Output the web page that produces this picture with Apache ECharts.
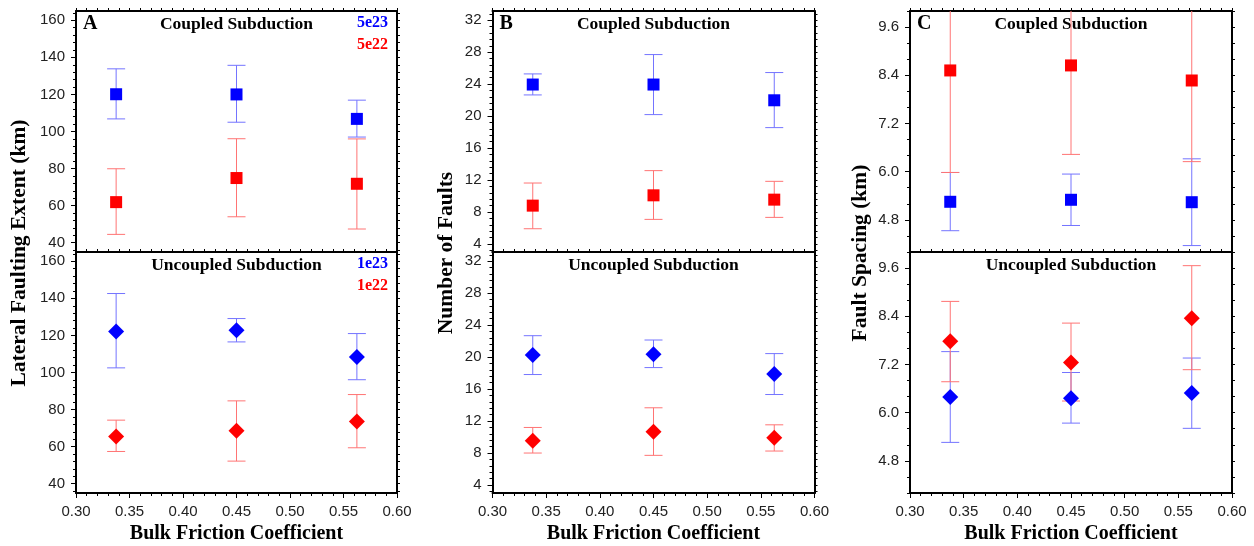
<!DOCTYPE html>
<html>
<head>
<meta charset="utf-8">
<script src="https://cdn.jsdelivr.net/npm/echarts@6.0.0/dist/echarts.min.js"></script>
<style>
  html, body { margin: 0; padding: 0; background: #fff; }
  #main { width: 1254px; height: 546px; }
</style>
</head>
<body>
<div id="main"></div>
<script>
// shared x values and tick labels
var xFriction = [0.3375, 0.45, 0.5625];
var xTicks = [0.30, 0.35, 0.40, 0.45, 0.50, 0.55, 0.60];
var extentTicks = [40, 60, 80, 100, 120, 140, 160];
var faultTicks = [4, 8, 12, 16, 20, 24, 28, 32];
var spacingTicks = [4.8, 6.0, 7.2, 8.4, 9.6];

// A - lateral faulting extent (km)
var extentCoupledBlue = [120.1, 120.0, 106.8];
var extentCoupledBlueLo = [106.8, 105.0, 97.0];
var extentCoupledBlueHi = [133.8, 135.7, 116.9];
var extentCoupledRed = [61.9, 74.9, 71.8];
var extentCoupledRedLo = [44.5, 54.0, 47.4];
var extentCoupledRedHi = [79.9, 96.1, 96.0];
var extentUncoupledBlue = [122.1, 122.8, 108.3];
var extentUncoupledBlueLo = [102.5, 116.5, 96.1];
var extentUncoupledBlueHi = [142.6, 129.1, 121.0];
var extentUncoupledRed = [65.5, 68.6, 73.6];
var extentUncoupledRedLo = [57.4, 52.2, 59.4];
var extentUncoupledRedHi = [74.3, 84.7, 88.1];

// B - number of faults
var faultsCoupledBlue = [23.95, 23.95, 21.98];
var faultsCoupledBlueLo = [22.65, 20.19, 18.56];
var faultsCoupledBlueHi = [25.28, 27.7, 25.45];
var faultsCoupledRed = [8.8, 10.09, 9.55];
var faultsCoupledRedLo = [5.91, 7.08, 7.33];
var faultsCoupledRedHi = [11.63, 13.18, 11.84];
var faultsUncoupledBlue = [20.27, 20.35, 17.9];
var faultsUncoupledBlueLo = [17.82, 18.69, 15.32];
var faultsUncoupledBlueHi = [22.68, 22.14, 20.44];
var faultsUncoupledRed = [9.54, 10.66, 9.91];
var faultsUncoupledRedLo = [8.0, 7.71, 8.25];
var faultsUncoupledRedHi = [11.2, 13.66, 11.53];

// C - fault spacing (km)
var spacingCoupledBlue = [5.25, 5.30, 5.24];
var spacingCoupledBlueLo = [4.53, 4.66, 4.16];
var spacingCoupledBlueHi = [5.98, 5.94, 6.32];
var spacingCoupledRed = [8.52, 8.645, 8.27];
var spacingCoupledRedLo = [5.98, 6.43, 6.25];
var spacingCoupledRedHi = [11.06, 10.86, 10.29];
var spacingUncoupledBlue = [6.39, 6.36, 6.49];
var spacingUncoupledBlueLo = [5.26, 5.74, 5.61];
var spacingUncoupledBlueHi = [7.52, 7.0, 7.36];
var spacingUncoupledRed = [7.78, 7.25, 8.35];
var spacingUncoupledRedLo = [6.77, 6.29, 7.07];
var spacingUncoupledRedHi = [8.77, 8.23, 9.66];

var SERIF = '"Liberation Serif", "Times New Roman", serif';
var SANS = '"Liberation Sans", Arial, sans-serif';
var BLUE = '#0000ff', RED = '#ff0000';
var BLUE_BAR = '#7474ff', RED_BAR = '#ff7474';

var columns = [
    {left: 76, width: 321, ticks: extentTicks, min: 35, max: 165, sub: 5, digits: 0, letter: 'A',
     name: 'Lateral Faulting Extent (km)', nameX: 19},
    {left: 492.5, width: 322, ticks: faultTicks, min: 3, max: 33.15, sub: 5, digits: 0, letter: 'B',
     name: 'Number of Faults', nameX: 446},
    {left: 910, width: 322, ticks: spacingTicks, min: 4.0, max: 10.0, sub: 3, digits: 1, letter: 'C',
     name: 'Fault Spacing (km)', nameX: 860}
];

// per grid: [blue, blueLo, blueHi, red, redLo, redHi]
var panelData = [
    [extentCoupledBlue, extentCoupledBlueLo, extentCoupledBlueHi, extentCoupledRed, extentCoupledRedLo, extentCoupledRedHi],
    [extentUncoupledBlue, extentUncoupledBlueLo, extentUncoupledBlueHi, extentUncoupledRed, extentUncoupledRedLo, extentUncoupledRedHi],
    [faultsCoupledBlue, faultsCoupledBlueLo, faultsCoupledBlueHi, faultsCoupledRed, faultsCoupledRedLo, faultsCoupledRedHi],
    [faultsUncoupledBlue, faultsUncoupledBlueLo, faultsUncoupledBlueHi, faultsUncoupledRed, faultsUncoupledRedLo, faultsUncoupledRedHi],
    [spacingCoupledBlue, spacingCoupledBlueLo, spacingCoupledBlueHi, spacingCoupledRed, spacingCoupledRedLo, spacingCoupledRedHi],
    [spacingUncoupledBlue, spacingUncoupledBlueLo, spacingUncoupledBlueHi, spacingUncoupledRed, spacingUncoupledRedLo, spacingUncoupledRedHi]
];

var GRID_TOP = 11, GRID_H = 241;

// tick positions between (and around) the labelled ticks
function subTicks(ticks, n, lo, hi) {
    var step = (ticks[1] - ticks[0]) / n, out = [];
    var k = Math.ceil((lo - ticks[0]) / step - 1e-9);
    for (; ticks[0] + k * step <= hi + 1e-9; k++) {
        out.push(+(ticks[0] + k * step).toFixed(6));
    }
    return out;
}

function renderErrorBar(params, api) {
    var x = api.value(0);
    var lo = api.coord([x, api.value(1)]);
    var hi = api.coord([x, api.value(2)]);
    var cap = 9;
    var style = {stroke: api.visual('color'), lineWidth: 1};
    return {
        type: 'group',
        children: [
            {type: 'line', shape: {x1: lo[0], y1: lo[1], x2: hi[0], y2: hi[1]}, style: style},
            {type: 'line', shape: {x1: lo[0] - cap, y1: lo[1], x2: lo[0] + cap, y2: lo[1]}, style: style},
            {type: 'line', shape: {x1: hi[0] - cap, y1: hi[1], x2: hi[0] + cap, y2: hi[1]}, style: style}
        ]
    };
}

var edge = {show: true, onZero: false, lineStyle: {color: '#000', width: 2}};
var tickLine = {color: '#000', width: 1};

var grids = [], xAxes = [], yAxes = [], series = [], graphics = [];
var xMinor = subTicks(xTicks, 5, 0.3, 0.6);

columns.forEach(function (col, ci) {
    var yMinor = subTicks(col.ticks, col.sub, col.min, col.max);
    for (var row = 0; row < 2; row++) {
        var gi = ci * 2 + row;
        var top = GRID_TOP + row * GRID_H;
        var isBottom = row === 1;
        grids.push({left: col.left, top: top, width: col.width, height: GRID_H, containLabel: false});

        // x: main bottom, minor bottom, top edge
        xAxes.push({
            gridIndex: gi, type: 'value', min: 0.3, max: 0.6, position: 'bottom',
            axisLine: edge,
            axisTick: {show: isBottom, length: 5, customValues: xTicks, lineStyle: tickLine},
            axisLabel: {show: isBottom, customValues: xTicks, margin: 11, color: '#222', fontSize: 15, fontFamily: SANS,
                formatter: function (v) { return v.toFixed(2); }},
            splitLine: {show: false}
        });
        xAxes.push({
            gridIndex: gi, type: 'value', min: 0.3, max: 0.6, position: 'bottom',
            axisLine: {show: false},
            axisTick: {show: isBottom, length: 3, customValues: xMinor, lineStyle: tickLine},
            axisLabel: {show: false}, splitLine: {show: false}
        });
        xAxes.push({
            gridIndex: gi, type: 'value', min: 0.3, max: 0.6, position: 'top',
            axisLine: edge,
            axisTick: {show: true, length: 3, customValues: xMinor, lineStyle: tickLine},
            axisLabel: {show: false}, splitLine: {show: false}
        });

        // y: main left, minor left, right edge
        (function (digits) {
            yAxes.push({
                gridIndex: gi, type: 'value', min: col.min, max: col.max, position: 'left',
                axisLine: edge,
                axisTick: {show: true, length: 5, customValues: col.ticks, lineStyle: tickLine},
                axisLabel: {customValues: col.ticks, margin: 11, color: '#222', fontSize: 15, fontFamily: SANS,
                    formatter: function (v) { return v.toFixed(digits); }},
                splitLine: {show: false}
            });
        })(col.digits);
        yAxes.push({
            gridIndex: gi, type: 'value', min: col.min, max: col.max, position: 'left',
            axisLine: {show: false},
            axisTick: {show: true, length: 3, customValues: yMinor, lineStyle: tickLine},
            axisLabel: {show: false}, splitLine: {show: false}
        });
        yAxes.push({
            gridIndex: gi, type: 'value', min: col.min, max: col.max, position: 'right',
            axisLine: edge,
            axisTick: {show: true, length: 3, customValues: yMinor, lineStyle: tickLine},
            axisLabel: {show: false}, splitLine: {show: false}
        });

        var d = panelData[gi];
        var sym = isBottom ? 'diamond' : 'rect';
        var symSize = isBottom ? 16 : 12;
        [[d[0], d[1], d[2], BLUE, BLUE_BAR], [d[3], d[4], d[5], RED, RED_BAR]].forEach(function (s) {
            series.push({
                type: 'custom', xAxisIndex: gi * 3, yAxisIndex: gi * 3, clip: true, z: 1,
                renderItem: renderErrorBar, itemStyle: {color: s[4]},
                encode: {x: 0, y: [1, 2]},
                data: xFriction.map(function (x, i) { return [x, s[1][i], s[2][i]]; })
            });
            series.push({
                type: 'scatter', xAxisIndex: gi * 3, yAxisIndex: gi * 3, z: 3,
                symbol: sym, symbolSize: symSize, itemStyle: {color: s[3], opacity: 1},
                data: xFriction.map(function (x, i) { return [x, s[0][i]]; })
            });
        });

        // panel titles
        graphics.push({type: 'text', x: col.left + col.width / 2, y: top + 13,
            style: {text: isBottom ? 'Uncoupled Subduction' : 'Coupled Subduction', fill: '#000',
                font: 'bold 17.5px ' + SERIF, align: 'center', verticalAlign: 'middle'}});
    }

    graphics.push({type: 'text', x: col.left + 7, y: GRID_TOP + 13,
        style: {text: col.letter, fill: '#000', font: 'bold 20px ' + SERIF, align: 'left', verticalAlign: 'middle'}});
    graphics.push({type: 'text', x: col.left + col.width / 2, y: 534,
        style: {text: 'Bulk Friction Coefficient', fill: '#000', font: 'bold 20px ' + SERIF,
            align: 'center', verticalAlign: 'middle'}});
    graphics.push({type: 'text', x: col.nameX, y: 253, rotation: Math.PI / 2,
        style: {text: col.name, fill: '#000', font: 'bold 21.5px ' + SERIF, align: 'center', verticalAlign: 'middle'}});
});

// strain-rate labels in panel A
graphics.push({type: 'text', x: 388, y: 23, style: {text: '5e23', fill: BLUE, font: 'bold 16px ' + SERIF, align: 'right', verticalAlign: 'middle'}});
graphics.push({type: 'text', x: 388, y: 45, style: {text: '5e22', fill: RED, font: 'bold 16px ' + SERIF, align: 'right', verticalAlign: 'middle'}});
graphics.push({type: 'text', x: 388, y: 264, style: {text: '1e23', fill: BLUE, font: 'bold 16px ' + SERIF, align: 'right', verticalAlign: 'middle'}});
graphics.push({type: 'text', x: 388, y: 286, style: {text: '1e22', fill: RED, font: 'bold 16px ' + SERIF, align: 'right', verticalAlign: 'middle'}});

var myChart = echarts.init(document.getElementById('main'));
myChart.setOption({
    animation: false,
    backgroundColor: '#fff',
    grid: grids,
    xAxis: xAxes,
    yAxis: yAxes,
    series: series,
    graphic: graphics
});
</script>
</body>
</html>
